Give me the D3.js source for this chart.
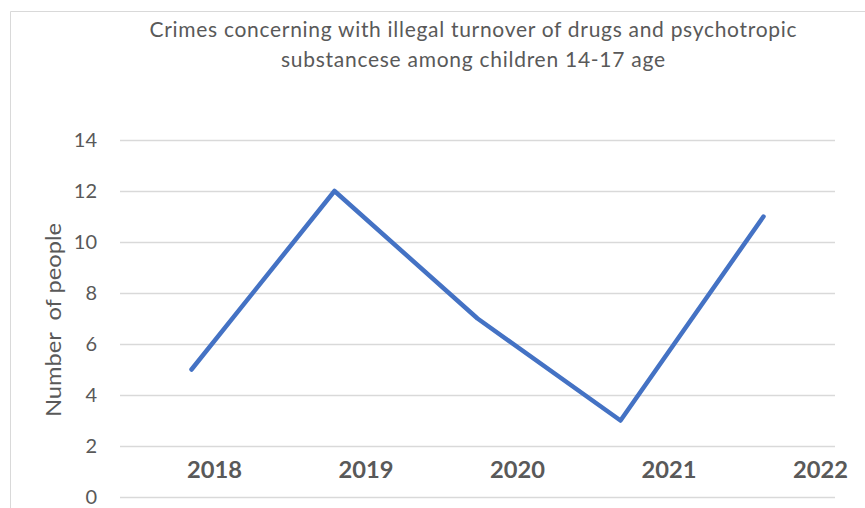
<!DOCTYPE html>
<html><head><meta charset="utf-8">
<script src="https://cdn.jsdelivr.net/npm/d3@7"></script>
<style>body{margin:0;background:#fff;} svg{display:block;}</style>
</head><body>
<script>
const years = ["2018","2019","2020","2021","2022"];
const values = [5, 12, 7, 3, 11];
const yTicks = [0, 2, 4, 6, 8, 10, 12, 14];
const titleLines = ["Crimes concerning with illegal turnover of drugs and psychotropic", "substancese among children 14-17 age"];
const titleWidths = [647, 384];
const yTitle = "Number  of people";

const W = 865, H = 508;
const svg = d3.select("body").append("svg").attr("width", W).attr("height", H);
const font = "Lato, 'Open Sans', sans-serif";

// chart border
svg.append("path").attr("d", `M10.5,${H} V11.5 H${W}`).attr("fill","none").attr("stroke","#d9d9d9").attr("stroke-width",1);

const plotL = 120, plotR = 835, plotT = 140, plotB = 497;
const y = d3.scaleLinear().domain([0,14]).range([plotB, plotT]);
const x = d3.scaleBand().domain(years).range([plotL, plotR]);
const xLab = d3.scalePoint().domain(years).range([214, 820]);

// gridlines
svg.append("g").selectAll("line").data(yTicks).join("line")
  .attr("x1", plotL).attr("x2", plotR)
  .attr("y1", d => Math.round(y(d))+0.5).attr("y2", d => Math.round(y(d))+0.5)
  .attr("stroke", "#d9d9d9").attr("stroke-width", 1.3);

// y axis labels
const yAxis = d3.axisLeft(y).tickValues(yTicks).tickSize(0).tickPadding(0);
const ga = svg.append("g").attr("transform", "translate(97,0)").call(yAxis);
ga.select(".domain").remove();
ga.selectAll("text").attr("font-family", font).attr("font-size", 20).attr("fill", "#595959");

// x labels
const xAxis = d3.axisBottom(xLab).tickSize(0).tickPadding(0);
const gx = svg.append("g").attr("transform", "translate(0,462)").call(xAxis);
gx.select(".domain").remove();
gx.selectAll("text").attr("font-family", font).attr("font-size", 22).attr("font-weight", "bold").attr("fill", "#595959")
  .attr("textLength", 55).attr("lengthAdjust", "spacingAndGlyphs");

// line
const line = d3.line().x((d,i) => x(years[i]) + x.bandwidth()/2).y(d => y(d));
svg.append("path").datum(values).attr("d", line)
  .attr("fill","none").attr("stroke","#4472C4").attr("stroke-width",4.5)
  .attr("stroke-linecap","round").attr("stroke-linejoin","round");

// title
svg.append("g").selectAll("text").data(titleLines).join("text")
  .attr("x", 473).attr("y", (d,i) => 37 + i*30)
  .attr("text-anchor","middle").attr("font-family", font).attr("font-size", 21)
  .attr("textLength", (d,i) => titleWidths[i]).attr("lengthAdjust", "spacing")
  .attr("fill", "#595959").text(d => d);

// y title
svg.append("text").attr("transform", "translate(61,320) rotate(-90)")
  .attr("text-anchor","middle").attr("font-family", font).attr("font-size", 21)
  .attr("textLength", 194).attr("lengthAdjust", "spacingAndGlyphs")
  .attr("fill", "#595959").attr("xml:space","preserve").text(yTitle);
</script>
</body></html>
